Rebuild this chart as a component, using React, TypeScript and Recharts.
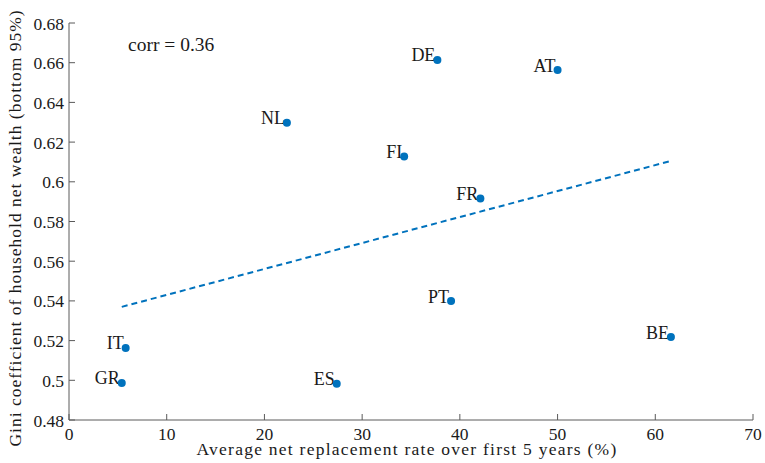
import React from "react";
import { ScatterChart, Scatter, XAxis, YAxis } from "recharts";

const countries = ["DE", "AT", "NL", "FI", "FR", "PT", "BE", "IT", "GR", "ES"];
const replacementRate = [37.7, 50.0, 22.3, 34.3, 42.1, 39.1, 61.6, 5.8, 5.4, 27.4];
const giniWealth = [0.6614, 0.6563, 0.6297, 0.6128, 0.5916, 0.5399, 0.5218, 0.5163, 0.4987, 0.4982];

const trendX = [5.4, 61.6];
const trendY = [0.537, 0.6105];

const xTicks = [0, 10, 20, 30, 40, 50, 60, 70];
const yTicks = [0.48, 0.5, 0.52, 0.54, 0.56, 0.58, 0.6, 0.62, 0.64, 0.66, 0.68];

const BLUE = "#0072BD";
const AXIS = "#5a5a5a";
const FONT = "'Liberation Serif', serif";

const points = countries.map((name, i) => ({ name, x: replacementRate[i], y: giniWealth[i] }));
const trend = trendX.map((x, i) => ({ x, y: trendY[i] }));

const fmt = (v: number) => String(Number(v.toFixed(2)));

function XTick(props: any) {
  const { x, y, payload } = props;
  return (
    <g>
      <line x1={x} y1={y} x2={x} y2={y - 6} stroke={AXIS} strokeWidth={1} />
      <text x={x} y={y + 19.5} textAnchor="middle" fontFamily={FONT} fontSize={17.5} fill="#1a1a1a">
        {payload.value}
      </text>
    </g>
  );
}

function YTick(props: any) {
  const { x, y, payload } = props;
  return (
    <g>
      <line x1={x} y1={y} x2={x + 6} y2={y} stroke={AXIS} strokeWidth={1} />
      <text x={x - 5} y={y + 6.5} textAnchor="end" fontFamily={FONT} fontSize={17.5} fill="#1a1a1a">
        {fmt(payload.value)}
      </text>
    </g>
  );
}

function CountryDot(props: any) {
  const { cx, cy, payload } = props;
  return (
    <g>
      <text x={cx - 2} y={cy + 1.5} textAnchor="end" fontFamily={FONT} fontSize={18} fill="#1a1a1a">
        {payload.name}
      </text>
      <circle cx={cx} cy={cy} r={4} fill={BLUE} />
    </g>
  );
}

export default function App() {
  return (
    <div style={{ position: "absolute", left: 0, top: 0, background: "#fff" }}>
      <ScatterChart width={765} height={463} margin={{ top: 23, right: 12, bottom: 0, left: 0 }}>
        <XAxis
          type="number"
          dataKey="x"
          domain={[0, 70]}
          ticks={xTicks}
          tickSize={0}
          tickMargin={0}
          tickLine={false}
          tick={<XTick />}
          height={43}
          stroke={AXIS}
          allowDataOverflow
        />
        <YAxis
          type="number"
          dataKey="y"
          domain={[0.48, 0.68]}
          ticks={yTicks}
          tickSize={0}
          tickMargin={0}
          tickLine={false}
          tick={<YTick />}
          width={69}
          stroke={AXIS}
          allowDataOverflow
        />
        <Scatter
          data={trend}
          line={{ stroke: BLUE, strokeWidth: 2, strokeDasharray: "6 4" }}
          shape={() => <g />}
          isAnimationActive={false}
        />
        <Scatter data={points} shape={<CountryDot />} isAnimationActive={false} />
        <text x={128} y={51} fontFamily={FONT} fontSize={19.5} fill="#1a1a1a">
          corr = 0.36
        </text>
        <text
          x={407}
          y={455}
          textAnchor="middle"
          fontFamily={FONT}
          fontSize={17.5}
          letterSpacing={1.25}
          fill="#1a1a1a"
        >
          Average net replacement rate over first 5 years (%)
        </text>
        <text
          x={0}
          y={0}
          transform="translate(20.5, 228) rotate(-90)"
          textAnchor="middle"
          fontFamily={FONT}
          fontSize={17.5}
          letterSpacing={1.0}
          fill="#1a1a1a"
        >
          Gini coefficient of household net wealth (bottom 95%)
        </text>
      </ScatterChart>
    </div>
  );
}
